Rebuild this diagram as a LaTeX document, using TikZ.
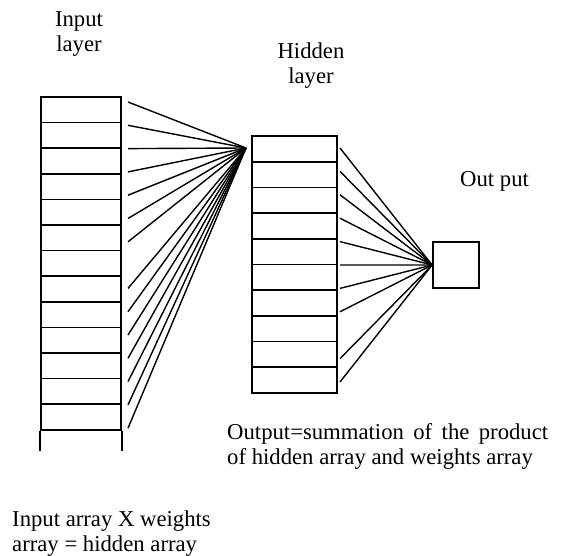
\documentclass[tikz,border=0pt]{standalone}
\usepackage{fontspec}
\setmainfont{Liberation Serif}
\tikzset{
  lbl/.style={font=\fontsize{22.7}{25}\selectfont, inner sep=0pt},
  box/.style={line width=1.7pt},
  cell/.style={draw, box, inner sep=0pt, minimum height=25.65pt},
  wire/.style={line width=1.4pt},
}
\begin{document}
\begin{tikzpicture}[x=1pt,y=-1pt]
\useasboundingbox (0,0) rectangle (565,556);
% input layer, open at the bottom
\foreach \k in {0,...,12}
  \node[cell, minimum width=80pt] (i\k) at (81,97+12.8+25.6*\k) {};
\draw[box] (i12.south west) -- ++(0,20);
\draw[box] (i12.south east) -- ++(0,20);
% hidden layer
\foreach \k in {0,...,9}
  \node[cell, minimum width=85pt] (h\k) at (294.5,136+12.85+25.7*\k) {};
% output
\node[draw, box, inner sep=0pt, minimum size=46pt] (out) at (456,265) {};
% weights input -> hidden
\coordinate (hub) at (246,148);
\foreach \k in {0,...,6,8,9,...,14} {
  \coordinate (w\k) at (128,102+23.3*\k);
  \draw[wire] (w\k) -- (hub);
}
% weights hidden -> output
\foreach \k in {0,...,7,9,10} {
  \coordinate (v\k) at (340,148+23.4*\k);
  \draw[wire] (v\k) -- (out.west);
}
% labels
\node[lbl, align=center, anchor=north] (inlbl) at (79,11) {Input\\layer};
\node[lbl, align=center, anchor=north] (hidlbl) at (311,42.5) {Hidden\\layer};
\node[lbl, anchor=base west] (outlbl) at (460,187) {Out put};
\node[lbl, align=justify, text width=321pt, anchor=north west] (sumlbl)
  at (227,423) {Output=summation of the product\linebreak of hidden array and weights array};
\node[lbl, align=left, anchor=north west] (prodlbl)
  at (12,510.5) {Input array X weights\\array = hidden array};
\end{tikzpicture}
\end{document}
